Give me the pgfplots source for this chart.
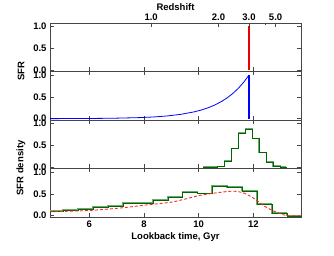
\documentclass[border=0pt]{standalone}
\usepackage{fontspec}
\setmainfont{Liberation Sans}
\usepackage{pgfplots}
\pgfplotsset{compat=1.18}
\definecolor{dkgreen}{RGB}{0,100,0}
\definecolor{ltgreen}{RGB}{110,170,110}
\definecolor{frame}{RGB}{70,70,70}
\definecolor{sfrred}{RGB}{235,0,0}
\pgfplotsset{panel/.style={
  scale only axis, width=251pt, height=48.5pt,
  xmin=4.56, xmax=13.74, ymin=-0.03, ymax=1.08,
  ytick={0,0.5,1}, xtick={6,8,10,12},
  yticklabel style={font=\fontsize{9.5}{10}\selectfont\bfseries,
    /pgf/number format/.cd, fixed, fixed zerofill, precision=1, assume math mode=true},
  xticklabel style={font=\fontsize{9.5}{10}\selectfont\bfseries,
    /pgf/number format/assume math mode=true},
  axis line style={frame, line width=0.8pt},
  major tick length=4pt, minor tick length=2.5pt,
  tick style={frame, line width=0.6pt},
  anchor=south west,
}}
\begin{document}
\begin{tikzpicture}
\path[use as bounding box] (0,0) rectangle (334pt,256pt);
% Redshift top axis
\begin{axis}[scale only axis, width=251pt, height=48.5pt, anchor=south west, at={(50pt,184.5pt)},
  xmin=4.56, xmax=13.74, ymin=-0.03, ymax=1.08,
  axis x line*=top, axis y line=none,
  axis line style={frame, line width=0.8pt},
  major tick length=4pt, minor tick length=2.5pt,
  tick style={frame, line width=0.6pt}, tick align=inside,
  xtick={8.26,10.72,11.84,12.81}, xticklabels={1.0,2.0,3.0,5.0}, minor xtick={12.43},
  xticklabel style={font=\fontsize{9.5}{10}\selectfont\bfseries, yshift=-1pt},
  xlabel={\bfseries Redshift}, xlabel style={font=\fontsize{9.5}{10}\selectfont, yshift=-4pt}]
\addplot[draw=none] coordinates {(8,0.5)};
\end{axis}
% Panel 1
\begin{axis}[panel, at={(50pt,184.5pt)}, xtick pos=lower, xticklabels={}]
\addplot[ycomb, draw=sfrred, line width=1.2pt, mark=none] coordinates {(11.84,1)};
\end{axis}
% Panel 2
\begin{axis}[panel, at={(50pt,136pt)}, xticklabels={}]
\addplot[blue, line width=0.8pt] coordinates {
(4.56,0.0012) (5.84,0.0039) (6.84,0.0098) (7.84,0.0246) (8.34,0.0391) (8.84,0.0622)
(9.34,0.0988) (9.84,0.157) (10.09,0.198) (10.34,0.249) (10.59,0.314) (10.84,0.396)
(11.04,0.477) (11.24,0.574) (11.44,0.690) (11.64,0.831) (11.84,1.0)};
\addplot[ycomb, draw=blue, line width=1.2pt, mark=none] coordinates {(11.84,1.0)};
\end{axis}
% Panel 3
\begin{axis}[panel, at={(50pt,87.5pt)}, xticklabels={}]
\addplot[ltgreen, line width=1.4pt, const plot] coordinates {
(10.15,0) (10.42,0.005) (10.68,0.02) (10.94,0.15) (11.19,0.43) (11.45,0.78) (11.70,0.88)
(11.96,0.66) (12.21,0.34) (12.47,0.13) (12.72,0.03) (12.98,0) (13.2,0)};
\addplot[dkgreen, line width=0.7pt, const plot, xshift=0.4pt, yshift=-0.4pt] coordinates {
(10.15,0) (10.42,0.005) (10.68,0.02) (10.94,0.15) (11.19,0.43) (11.45,0.78) (11.70,0.88)
(11.96,0.66) (12.21,0.34) (12.47,0.13) (12.72,0.03) (12.98,0) (13.2,0)};
\end{axis}
% Panel 4
\begin{axis}[panel, at={(50pt,39pt)},
  xlabel={\bfseries Lookback time, Gyr}, xlabel style={font=\fontsize{9.5}{10}\selectfont, yshift=2pt}]
\addplot[ltgreen, line width=1.4pt, const plot] coordinates {
(4.50,0.11) (5.04,0.14) (5.59,0.16) (6.13,0.20) (6.68,0.22) (7.22,0.29) (7.77,0.29)
(8.31,0.37) (8.86,0.43) (9.40,0.54) (9.95,0.51) (10.49,0.68) (11.04,0.66) (11.58,0.57)
(12.13,0.27) (12.67,0.06) (13.22,0.0) (13.76,0.0)};
\addplot[dkgreen, line width=0.7pt, const plot, xshift=0.4pt, yshift=-0.4pt] coordinates {
(4.50,0.11) (5.04,0.14) (5.59,0.16) (6.13,0.20) (6.68,0.22) (7.22,0.29) (7.77,0.29)
(8.31,0.37) (8.86,0.43) (9.40,0.54) (9.95,0.51) (10.49,0.68) (11.04,0.66) (11.58,0.57)
(12.13,0.27) (12.67,0.06) (13.22,0.0) (13.76,0.0)};
\addplot[red!85, line width=0.9pt, dash pattern=on 3pt off 2pt, smooth, tension=0.5] coordinates {
(4.56,0.09) (6.0,0.12) (7.2,0.18) (8.0,0.24) (8.3,0.26) (9.0,0.31) (9.5,0.38) (10.0,0.46)
(10.5,0.51) (11.0,0.55) (11.3,0.56) (11.6,0.53) (11.9,0.44) (12.1,0.36) (12.4,0.22)
(12.8,0.09) (13.1,0.02) (13.25,0.0) (13.74,0.0)};
\end{axis}
\node[rotate=90, font=\fontsize{9.5}{10}\selectfont\bfseries] at (21pt,185pt) {SFR};
\node[rotate=90, font=\fontsize{9.5}{10}\selectfont\bfseries] at (21pt,88pt) {SFR density};
\end{tikzpicture}
\end{document}
